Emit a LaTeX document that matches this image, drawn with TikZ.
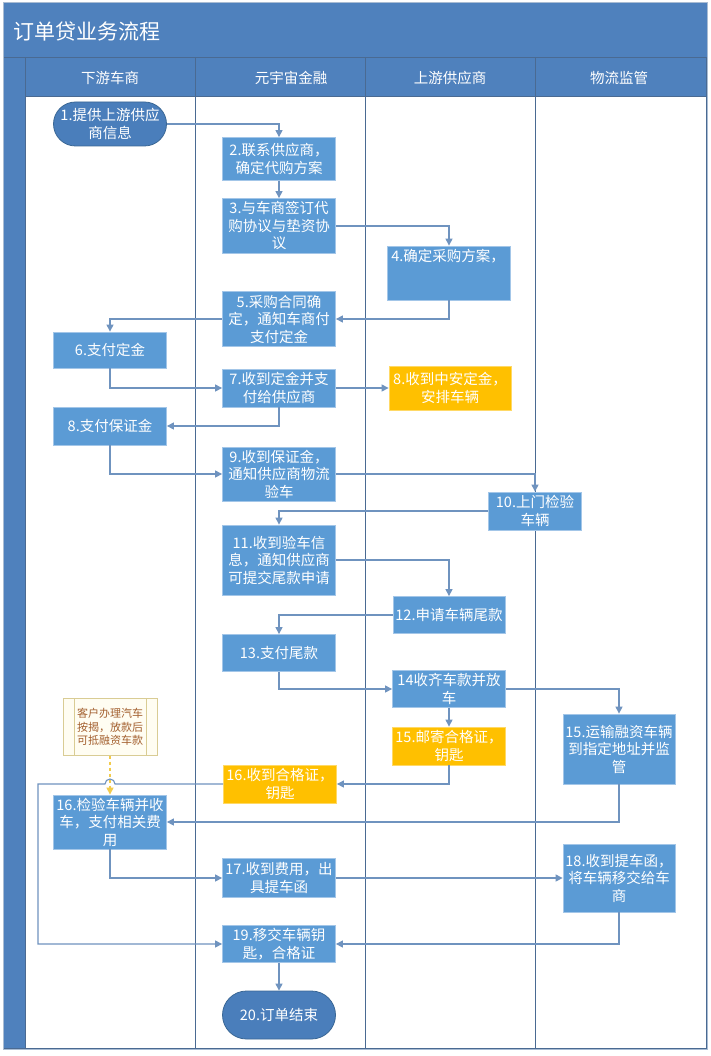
\documentclass[tikz,border=0pt]{standalone}
\usepackage{fontspec}
\setmainfont{Noto Sans CJK SC}
\usetikzlibrary{arrows.meta, positioning, calc}
\definecolor{hdblue}{HTML}{4F81BD}
\definecolor{laneline}{HTML}{4A6A92}
\definecolor{boxblue}{HTML}{5B9BD5}
\definecolor{boxedge}{HTML}{A3C6E8}
\definecolor{endblue}{HTML}{4A7EBB}
\definecolor{endedge}{HTML}{3A6795}
\definecolor{amber}{HTML}{FFC000}
\definecolor{amberedge}{HTML}{FFD966}
\definecolor{linkblue}{HTML}{6F93BF}
\definecolor{notefill}{HTML}{FFFDF2}
\definecolor{noteedge}{HTML}{D9CC94}
\definecolor{notetext}{HTML}{A35F2E}
\definecolor{dashgold}{HTML}{F2CB4C}
\definecolor{framegray}{HTML}{A9BCD3}

\newcommand{\flowfont}{\fontsize{14.5}{17.5}\selectfont}
\newcommand{\notefont}{\fontsize{11}{13.5}\selectfont}

\begin{document}
\begin{tikzpicture}[x=1pt, y=-1pt, >={Triangle[length=7pt, width=7pt]},
  stepbox/.style={draw=boxedge, line width=0.8pt, fill=boxblue, text=white,
    align=center, inner sep=2pt, minimum width=113pt, font=\flowfont},
  goldbox/.style={stepbox, draw=amberedge, fill=amber},
  endcap/.style={stepbox, draw=endedge, fill=endblue},
  flow/.style={draw=linkblue, line width=1.1pt, ->},
  lane/.style={draw=laneline, line width=1pt},
  lanehead/.style={text=white, font=\fontsize{14.5}{17}\selectfont}]

\useasboundingbox (0,0) rectangle (710,1056);

% Background and swimlane frame
\fill[white] (0,0) rectangle (710,1056);
\draw[framegray, line width=1.2pt] (4,3) rectangle (707,1049);
\fill[hdblue] (4,3) rectangle (707,97);
\fill[hdblue] (4,97) rectangle (25,1048);
\foreach \x in {25,195,365,535,706}
  \draw[lane] (\x,58) -- (\x,1048);
\draw[lane] (4,58) -- (707,58);
\draw[lane] (25,97) -- (706,97);
\draw[lane] (4,1048) -- (707,1048);

% Title
\node[anchor=west, text=white, font=\fontsize{21}{24}\selectfont] (title) at (10,32) {订单贷业务流程};

% Lane headers
\foreach \x/\lab/\id in {110/下游车商/hdA, 291/元宇宙金融/hdB, 450/上游供应商/hdC, 619/物流监管/hdD}
  \node[lanehead] (\id) at (\x,78) {\lab};

% Steps
\node[endcap, minimum height=44pt, rounded corners=22pt] (n1) at (110,124) {1.提供上游供应\\商信息};
\node[stepbox, minimum height=43pt] (n2) at (279,159) {2.联系供应商，\\确定代购方案};
\node[stepbox, minimum height=55pt] (n3) at (279,226) {3.与车商签订代\\购协议与垫资协\\议};
\node[stepbox, minimum width=123pt, minimum height=54pt] (n4) at (449,273) {};
\node[anchor=north west, text=white, font=\flowfont, inner sep=0pt] (n4txt) at ($(n4.north west)+(4,3)$) {4.确定采购方案，};
\node[stepbox, minimum height=55pt] (n5) at (279,319) {5.采购合同确\\定，通知车商付\\支付定金};
\node[stepbox, minimum height=36pt] (n6) at (110,350) {6.支付定金};
\node[stepbox, minimum height=38pt] (n7) at (279,388) {7.收到定金并支\\付给供应商};
\node[goldbox, minimum width=122pt, minimum height=44pt] (n8y) at (450,388) {8.收到中安定金，\\安排车辆};
\node[stepbox, minimum height=38pt] (n8) at (110,426) {8.支付保证金};
\node[stepbox, minimum height=54pt] (n9) at (279,474) {9.收到保证金，\\通知供应商物流\\验车};
\node[stepbox, minimum width=93pt, minimum height=38pt] (n10) at (535,511) {10.上门检验\\车辆};
\node[stepbox, minimum height=70pt] (n11) at (279,560) {11.收到验车信\\息，通知供应商\\可提交尾款申请};
\node[stepbox, minimum width=112pt, minimum height=37pt] (n12) at (449,615) {12.申请车辆尾款};
\node[stepbox, minimum height=37pt] (n13) at (279,653) {13.支付尾款};
\node[stepbox, minimum height=37pt] (n14) at (449,689) {14收齐车款并放\\车};
\node[goldbox, minimum height=38pt] (n15y) at (449,746) {15.邮寄合格证，\\钥匙};
\node[stepbox, minimum width=112pt, minimum height=70pt] (n15b) at (619,749) {15.运输融资车辆\\到指定地址并监\\管};
\node[goldbox, minimum height=38pt] (n16y) at (280,784) {16.收到合格证，\\钥匙};
\node[stepbox, minimum height=54pt] (n16) at (110,822) {16.检验车辆并收\\车，支付相关费\\用};
\node[stepbox, minimum height=39pt] (n17) at (279,878) {17.收到费用，出\\具提车函};
\node[stepbox, minimum width=112pt, minimum height=68pt] (n18) at (619,878) {18.收到提车函，\\将车辆移交给车\\商};
\node[stepbox, minimum height=37pt] (n19) at (279,944) {19.移交车辆钥\\匙，合格证};
\node[endcap, minimum height=48pt, rounded corners=24pt] (n20) at (279,1015) {20.订单结束};

% Note on the mortgage
\node[draw=noteedge, fill=notefill, text=notetext, font=\notefont, align=center,
  minimum width=94pt, minimum height=57pt, inner sep=2pt] (note) at (110,727)
  {客户办理汽车\\按揭，放款后\\可抵融资车款};
\draw[noteedge] ($(note.north west)+(11,0)$) -- ($(note.south west)+(11,0)$);
\draw[noteedge] ($(note.north east)+(-11,0)$) -- ($(note.south east)+(-11,0)$);

% Connectors
\draw[flow] (n1) -| (n2);
\draw[flow] (n2) -- (n3);
\draw[flow] (n3) -| (n4);
\draw[flow] (n4) |- (n5);
\draw[flow] (n5) -| (n6);
\draw[flow] (n6) |- (n7);
\draw[flow] (n7) -- (n8y);
\draw[flow] (n7) |- (n8);
\draw[flow] (n8) |- (n9);
\draw[flow] (n9) -| (n10);
\draw[flow] (n10) -| (n11);
\draw[flow] (n11) -| (n12);
\draw[flow] (n12) -| (n13);
\draw[flow] (n13) |- (n14);
\draw[flow] (n14) -- (n15y);
\draw[flow] (n14) -| (n15b);
\draw[flow] (n15y) |- (n16y);
\draw[flow] (n15b) |- (n16);
\draw[dashgold, dashed, line width=1.1pt, ->] (note) -- (n16);
\coordinate (hop) at (note.south |- n16y);
\coordinate (loopL) at (38,784);
\draw[flow] (n16y.west) -- ([xshift=5pt]hop) arc[start angle=0, end angle=180, radius=5pt]
  -- (loopL) |- (n19);
\draw[flow] (n16) |- (n17);
\draw[flow] (n17) -- (n18);
\draw[flow] (n18) |- (n19);
\draw[flow] (n19) -- (n20);

\end{tikzpicture}
\end{document}
